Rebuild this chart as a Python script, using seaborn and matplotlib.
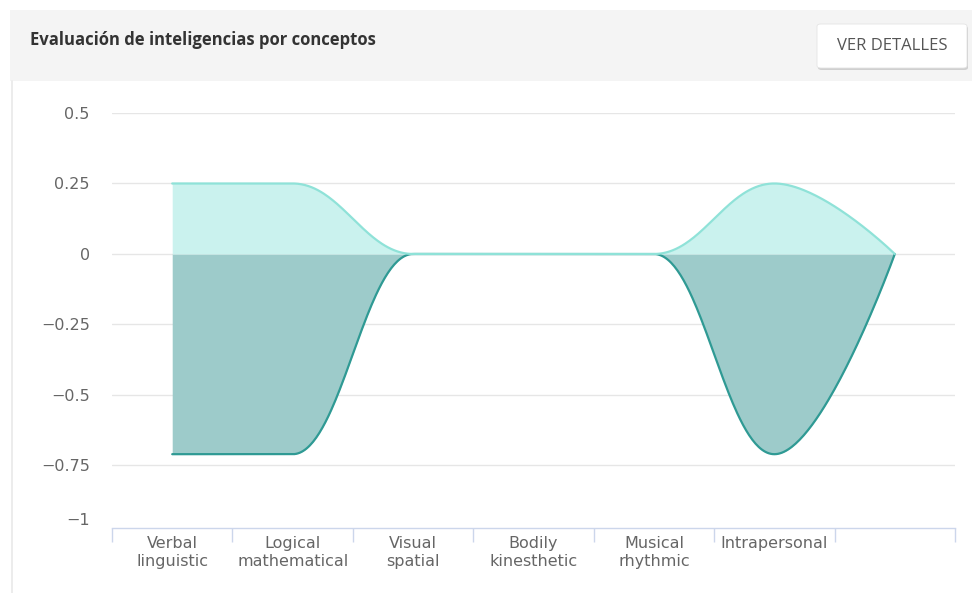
import numpy as np
import pandas as pd
import matplotlib.pyplot as plt
import seaborn as sns
from matplotlib.patches import Rectangle, FancyBboxPatch
from matplotlib.lines import Line2D

# data
categories = ["Verbal\nlinguistic", "Logical\nmathematical", "Visual\nspatial",
              "Bodily\nkinesthetic", "Musical\nrhythmic", "Intrapersonal", ""]
positive_scores = [0.25, 0.25, 0, 0, 0, 0.25, 0]
negative_scores = [-0.71, -0.71, 0, 0, 0, -0.71, 0]
y_ticks = [0.5, 0.25, 0, -0.25, -0.5, -0.75]
y_tick_labels = ["0.5", "0.25", "0", "\u22120.25", "\u22120.5", "\u22120.75"]

title = "Evaluación de inteligencias por conceptos"
button_text = "VER DETALLES"


def spline_path(xs, ys, smoothing=1.5, n=80):
    # spline like the web chart lib: bezier segments, extremes kept flat
    xs = [float(v) for v in xs]
    ys = [float(v) for v in ys]
    m = len(xs)
    denom = smoothing + 1
    lc = [(xs[i], ys[i]) for i in range(m)]
    rc = [(xs[i], ys[i]) for i in range(m)]
    for i in range(1, m - 1):
        px, py = xs[i], ys[i]
        lx, ly = xs[i - 1], ys[i - 1]
        nx, ny = xs[i + 1], ys[i + 1]
        lcx = (smoothing * px + lx) / denom
        lcy = (smoothing * py + ly) / denom
        rcx = (smoothing * px + nx) / denom
        rcy = (smoothing * py + ny) / denom
        corr = (rcy - lcy) * (rcx - px) / (rcx - lcx) + py - rcy
        lcy += corr
        rcy += corr
        if lcy > ly and lcy > py:
            lcy = max(ly, py)
            rcy = 2 * py - lcy
        elif lcy < ly and lcy < py:
            lcy = min(ly, py)
            rcy = 2 * py - lcy
        if rcy > ny and rcy > py:
            rcy = max(ny, py)
            lcy = 2 * py - rcy
        elif rcy < ny and rcy < py:
            rcy = min(ny, py)
            lcy = 2 * py - rcy
        lc[i] = (lcx, lcy)
        rc[i] = (rcx, rcy)
    t = np.linspace(0, 1, n)
    out_x, out_y = [xs[0]], [ys[0]]
    for i in range(m - 1):
        p0 = (xs[i], ys[i])
        p1 = rc[i]
        p2 = lc[i + 1]
        p3 = (xs[i + 1], ys[i + 1])
        bx = (1 - t) ** 3 * p0[0] + 3 * (1 - t) ** 2 * t * p1[0] + 3 * (1 - t) * t ** 2 * p2[0] + t ** 3 * p3[0]
        by = (1 - t) ** 3 * p0[1] + 3 * (1 - t) ** 2 * t * p1[1] + 3 * (1 - t) * t ** 2 * p2[1] + t ** 3 * p3[1]
        out_x.extend(bx[1:])
        out_y.extend(by[1:])
    return np.array(out_x), np.array(out_y)


sns.set_theme(style="white")
# axis text in DejaVu, header text in Open Sans
plt.rcParams['font.family'] = ['DejaVu Sans']
header_font = ['Open Sans', 'DejaVu Sans']

W, H = 972, 593
fig = plt.figure(figsize=(W / 100, H / 100), dpi=100)


def fx(px):
    return px / W


def fy(py):
    return 1 - py / H


# header panel
fig.add_artist(Rectangle((fx(10), fy(81)), fx(962), 71 / H, transform=fig.transFigure,
                         facecolor="#f4f4f4", edgecolor="none", zorder=0))
fig.add_artist(Line2D([fx(12), fx(12)], [fy(81), 0], transform=fig.transFigure,
                      color="#e9e9e9", lw=1.2))
fig.text(fx(30), fy(40), title, fontsize=12, fontweight="bold", color="#333333",
         ha="left", va="center", family=header_font)
# button with a soft shadow
fig.add_artist(FancyBboxPatch((fx(818), fy(70)), fx(150), 44 / H,
                              boxstyle="round,pad=0,rounding_size=0.004",
                              transform=fig.transFigure, facecolor="#cfcfcf",
                              edgecolor="none", zorder=1))
fig.add_artist(FancyBboxPatch((fx(817), fy(68)), fx(150), 44 / H,
                              boxstyle="round,pad=0,rounding_size=0.004",
                              transform=fig.transFigure, facecolor="white",
                              edgecolor="#e4e4e4", lw=0.6, zorder=2))
fig.text(fx(892), fy(46), button_text, fontsize=12, color="#555555",
         ha="center", va="center", zorder=3, family=header_font)

# chart area
ax = fig.add_axes([fx(112), fy(527.5), fx(843), (527.5 - 113) / H])
x_pos = np.arange(len(categories))

nx_, ny_ = spline_path(x_pos, negative_scores)
px_, py_ = spline_path(x_pos, positive_scores)

ax.fill_between(nx_, ny_, 0, color="#9dcbca", lw=0, zorder=2)
ax.fill_between(px_, py_, 0, color="#caf2ee", lw=0, zorder=2)
curves = pd.DataFrame({"x": np.concatenate([nx_, px_]),
                       "y": np.concatenate([ny_, py_]),
                       "serie": ["neg"] * len(nx_) + ["pos"] * len(px_)})
sns.lineplot(data=curves, x="x", y="y", hue="serie", sort=False, estimator=None,
             palette={"neg": "#2f9a94", "pos": "#8fe2d8"}, lw=1.6, legend=False,
             ax=ax, zorder=3)

ax.set_xlim(-0.5, len(categories) - 0.5)
ax.set_ylim(-0.97, 0.5)
ax.set_xlabel("")
ax.set_ylabel("")

ax.set_yticks(y_ticks)
ax.set_yticklabels(y_tick_labels)
ax.tick_params(axis="y", length=0, pad=16, labelsize=11.5, labelcolor="#666666")
ax.grid(axis="y", color="#e6e6e6", lw=1, zorder=0)
ax.grid(axis="x", visible=False)
ax.text(-22 / 843, -0.945, "\u22121", transform=ax.get_yaxis_transform(),
        ha="right", va="center", fontsize=11.5, color="#666666")

# x axis: boundary ticks, labels in the middle
ax.set_xticks(np.arange(len(categories) + 1) - 0.5)
ax.set_xticklabels([""] * (len(categories) + 1))
ax.set_xticks(x_pos, minor=True)
ax.set_xticklabels(categories, minor=True)
ax.tick_params(axis="x", which="major", bottom=True, length=10, width=1,
               color="#ccd6eb", direction="out")
ax.tick_params(axis="x", which="minor", bottom=True, length=0, pad=6,
               labelsize=11.5, labelcolor="#666666")
for lab in ax.get_xticklabels(minor=True):
    lab.set_linespacing(1.25)

for side in ["top", "right", "left"]:
    ax.spines[side].set_visible(False)
ax.spines["bottom"].set_color("#ccd6eb")
ax.spines["bottom"].set_linewidth(1)
ax.patch.set_alpha(0)

fig.savefig("out.png", dpi=100, facecolor="white")
